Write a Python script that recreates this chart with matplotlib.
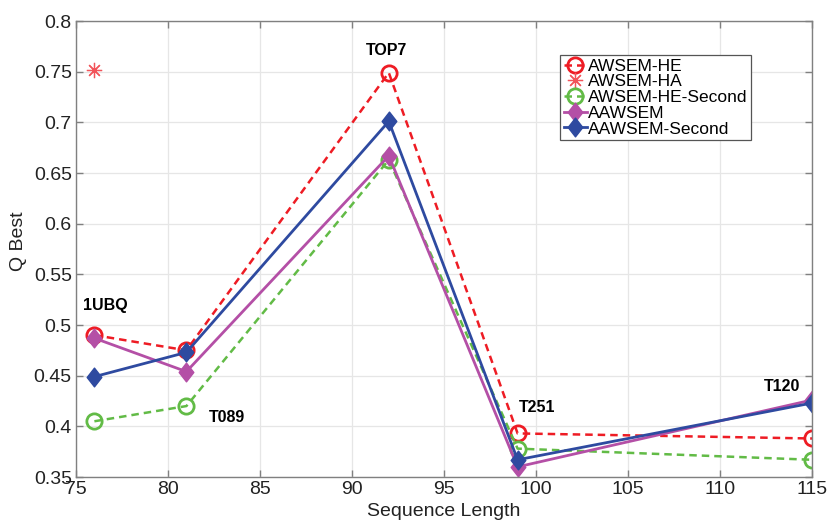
import matplotlib
matplotlib.use("Agg")
import matplotlib.pyplot as plt
from matplotlib.path import Path

plt.rcParams['font.family'] = ['Liberation Sans', 'DejaVu Sans']

seq_len = [76, 81, 92, 99, 115]
awsem_he = [0.490, 0.475, 0.749, 0.393, 0.388]
awsem_ha_x = [76]
awsem_ha = [0.752]
awsem_he_second = [0.405, 0.420, 0.663, 0.378, 0.367]
aawsem = [0.487, 0.454, 0.667, 0.360, 0.426]
aawsem_second = [0.449, 0.473, 0.701, 0.367, 0.423]

proteins = ['1UBQ', 'TOP7', 'T089', 'T251', 'T120']
label_x = [76.6, 91.9, 83.2, 100.05, 113.4]
label_y = [0.519, 0.771, 0.409, 0.419, 0.439]

fig = plt.figure(figsize=(8.3, 5.21), dpi=100)
ax = fig.add_axes([76 / 830, 44 / 521, 736 / 830, 456 / 521])

red = '#ee1c24'
red_light = '#f2545a'
green = '#62bb46'
purple = '#b44fa6'
blue = '#2e4aa0'

diamond = Path([(0, 1), (0.78, 0), (0, -1), (-0.78, 0), (0, 1)],
               [Path.MOVETO, Path.LINETO, Path.LINETO, Path.LINETO, Path.CLOSEPOLY])

ax.plot(seq_len, awsem_he, linestyle='--', dashes=(3, 2), marker='o', color=red, lw=1.8,
        ms=11, mfc='none', mew=2, label='AWSEM-HE')
ax.plot(awsem_ha_x, awsem_ha, linestyle='none', marker=(8, 2, 0), color=red_light, ms=11,
        mew=0.9, label='AWSEM-HA')
ax.plot(seq_len, awsem_he_second, linestyle='--', dashes=(3, 2), marker='o', color=green, lw=1.8,
        ms=11, mfc='none', mew=2, label='AWSEM-HE-Second')
ax.plot(seq_len, aawsem, linestyle='-', marker=diamond, color=purple, lw=2, ms=13.5,
        label='AAWSEM')
ax.plot(seq_len, aawsem_second, linestyle='-', marker=diamond, color=blue, lw=2, ms=13.5,
        label='AAWSEM-Second')

for name, x, y in zip(proteins, label_x, label_y):
    ax.text(x, y, name, fontsize=11.5, fontweight='bold', ha='center', va='center')

ax.set_xlim(75, 115)
ax.set_ylim(0.35, 0.8)
ax.set_xticks([75, 80, 85, 90, 95, 100, 105, 110, 115])
ax.set_yticks([0.35, 0.4, 0.45, 0.5, 0.55, 0.6, 0.65, 0.7, 0.75, 0.8])
ax.set_yticklabels(['0.35', '0.4', '0.45', '0.5', '0.55', '0.6', '0.65', '0.7', '0.75', '0.8'])
ax.grid(True, color='#e6e6e6', lw=0.9)
ax.set_axisbelow(True)
ax.tick_params(direction='in', labelsize=14, labelcolor='#222222', color='#808080',
               length=5, width=1, top=True, right=True, pad=3)
for s in ax.spines.values():
    s.set_color('#808080')
    s.set_linewidth(1)
ax.set_xlabel('Sequence Length', fontsize=14, color='#222222')
ax.set_ylabel('Q Best', fontsize=14, color='#222222')
ax.xaxis.set_label_coords(0.5, -0.057)
ax.yaxis.set_label_coords(-0.066, 0.517)

leg = ax.legend(loc='upper left', bbox_to_anchor=(0.658, 0.925), fontsize=12.5, frameon=True,
                fancybox=False, edgecolor='#555555', handlelength=1.35, handletextpad=0.02,
                borderpad=0.2, labelspacing=0.03, borderaxespad=0, framealpha=1)
leg.get_frame().set_linewidth(0.9)

fig.savefig('out.png', dpi=100)
